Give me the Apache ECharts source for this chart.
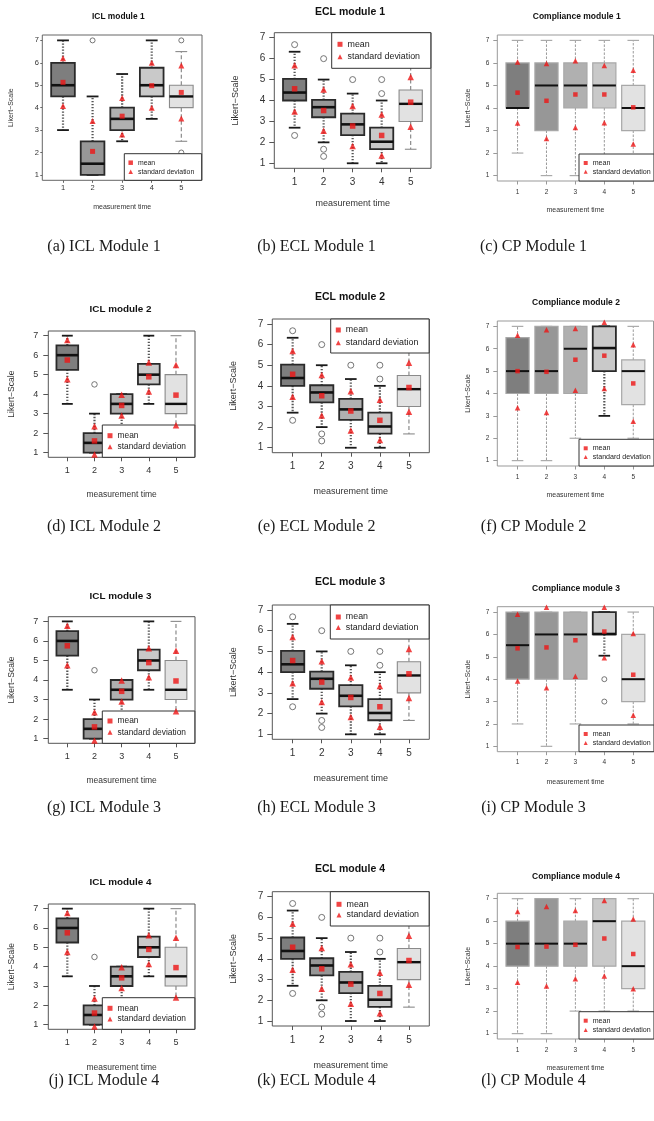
<!DOCTYPE html>
<html>
<head>
<meta charset="utf-8">
<script src="https://cdn.jsdelivr.net/npm/echarts@6/dist/echarts.min.js"></script>
<style>
html, body { margin: 0; padding: 0; background: #fff; }
#chart { width: 654px; height: 1121px; }
</style>
</head>
<body>
<div id="chart"></div>
<script>
// axis values
const measurementTimes = [1, 2, 3, 4, 5];
const likertTicks = [1, 2, 3, 4, 5, 6, 7];

// boxes: [lower whisker, Q1, median, Q3, upper whisker] per measurement time
const icl1Box = [[3, 4.5, 5, 6, 7], [1, 1, 1.5, 2.5, 4.5], [2.5, 3, 3.5, 4, 5.5], [3.5, 4.5, 5, 5.78, 7], [2.5, 4, 4.5, 5, 6.5]];
const icl1Mean = [5.13, 2.05, 3.62, 4.98, 4.68];
const icl1SdHigh = [6.2, 3.4, 4.43, 6.0, 5.88];
const icl1SdLow = [4.07, null, 2.8, 4.0, 3.52];
const icl1Outliers = [[2, 7], [5, 7], [5, 2]];

// ICL modules 2, 3 and 4 show the same figures
const iclBox = [[3.5, 5.25, 6, 6.5, 7], [1, 1, 1.5, 2, 3], [2, 3, 3.5, 4, 4], [3.5, 4.5, 5, 5.55, 7], [1.5, 3, 3.5, 5, 7]];
const iclMean = [5.75, 1.6, 3.42, 4.89, 3.95];
const iclSdHigh = [6.78, 2.35, 3.97, 5.63, 5.5];
const iclSdLow = [4.76, 0.9, 2.9, 4.14, 2.4];
const iclOutliers = [[2, 4.5]];

// ECL modules 1-4 show the same figures
const eclBox = [[2.7, 4.0, 4.38, 5.03, 6.33], [2.0, 3.2, 3.68, 4.03, 5.0], [1, 2.35, 2.86, 3.37, 4.33], [1, 1.68, 2.03, 2.7, 4.0], [1.67, 3.0, 3.84, 4.5, 6.67]];
const eclMean = [4.56, 3.52, 2.78, 2.33, 3.92];
const eclSdHigh = [5.69, 4.52, 3.74, 3.33, 5.12];
const eclSdLow = [3.47, 2.56, 1.83, 1.37, 2.75];
const eclOutliers = [[1, 6.67], [1, 2.33], [2, 6], [2, 1.67], [2, 1.33], [3, 5], [4, 5], [4, 4.33]];

const cp1Box = [[2, 4, 4, 6, 7], [1, 3, 5, 6, 7], [1, 4, 5, 6, 7], [1, 4, 5, 6, 7], [1, 3, 4, 5, 7]];
const cp1Mean = [4.68, 4.32, 4.6, 4.6, 4.03];
const cp1SdHigh = [6.04, 5.98, 6.1, 5.89, 5.68];
const cp1SdLow = [3.33, 2.65, 3.14, 3.35, 2.4];

const cp2Box = [[1, 4, 5, 6.5, 7], [1, 4, 5, 7, 7], [2, 4, 6, 7, 7], [3, 5, 6.03, 7, 7], [2, 3.5, 5, 5.5, 7]];
const cp2Mean = [5.0, 4.97, 5.51, 5.69, 4.45];
const cp2SdHigh = [6.6, 6.85, 6.9, 7.18, 6.18];
const cp2SdLow = [3.36, 3.15, 4.15, 4.22, 2.76];

const cp3Box = [[2, 4, 5.52, 7, 7], [1, 4, 6, 7, 7], [2, 4, 6, 7, 7], [5.05, 6, 6.02, 7, 7], [2, 3, 4, 6, 7]];
const cp3Mean = [5.38, 5.42, 5.74, 6.13, 4.2];
const cp3SdHigh = [6.9, 7.22, null, 7.22, 6.04];
const cp3SdLow = [3.92, 3.62, 4.13, 4.96, 2.39];
const cp3Outliers = [[4, 4], [4, 3]];

const cp4Box = [[1, 4, 5, 6, 7], [1, 4, 5, 7, 7], [2, 4, 5, 6, 7], [2, 4, 6, 7, 7], [2, 3, 4, 6, 7]];
const cp4Mean = [4.85, 4.87, 4.95, 5.23, 4.54];
const cp4SdHigh = [6.43, 6.65, 6.47, 6.92, 6.1];
const cp4SdLow = [3.28, 3.12, 3.44, 3.56, 3.0];

const FONT = '"Liberation Sans", Arial, sans-serif';
const RED = '#ee1515';
const boxFills = ['#7e7e7e', '#979797', '#b0b0b0', '#c9c9c9', '#e2e2e2'];
const boxStyles = {
    dark: { border: '#2a2a2a', borderW: 1.8, whisker: '#555', whiskerW: 2.2, dash: [1.3, 1.7], cap: '#1a1a1a', capW: 1.8, median: '#111', medianW: 2.6 },
    light: { border: '#8a8a8a', borderW: 1.1, whisker: '#808080', whiskerW: 1.1, dash: [4, 2.5], cap: '#8a8a8a', capW: 1.1, median: '#111', medianW: 2.4 },
    cp: { border: '#a8a8a8', borderW: 1.2, whisker: '#9a9a9a', whiskerW: 1, dash: [2.5, 1.5], cap: '#aaa', capW: 1.2, median: '#111', medianW: 2 }
};
const eclLooks = ['dark', 'dark', 'dark', 'dark', 'light'];
const cpLooks = ['cp', 'cp', 'cp', 'cp', 'cp'];
const cpBoldLooks = ['cp', 'cp', 'cp', 'dark', 'cp'];

const lookICL1 = { fs: { title: 8.4, tick: 7.5, name: 7, legend: 6.9 }, yTick: 2, yMargin: 3.5, xTick: 2.5, xMargin: 4, frame: '#666', sym: { mean: 5, sd: 6, out: 5 }, lsize: 4.5 };
const lookICL = { fs: { title: 9.9, tick: 9, name: 8.5, legend: 8.4 }, yTick: 5, yMargin: 10, xTick: 4, xMargin: 9, frame: '#555', sym: { mean: 5.5, sd: 6.5, out: 5.5 }, lsize: 5 };
const lookECL = { fs: { title: 10.5, tick: 10, name: 9, legend: 8.9 }, yTick: 5, yMargin: 9, xTick: 4, xMargin: 9, frame: '#555', sym: { mean: 5.5, sd: 6.5, out: 6 }, lsize: 5 };
const lookCP = { fs: { title: 8.5, tick: 6.5, name: 7, legend: 7.1 }, yTick: 4, yMargin: 8, xTick: 3.5, xMargin: 7.5, frame: '#999', sym: { mean: 4.5, sd: 5.5, out: 5 }, lsize: 4 };

const panels = [
    { title: 'ICL module 1', caption: '(a) ICL Module 1', box: icl1Box, mean: icl1Mean, hi: icl1SdHigh, lo: icl1SdLow, out: icl1Outliers, looks: eclLooks, look: lookICL1,
      grid: [42.3, 35, 159.7, 145.3], titleAt: [118.3, 16.7], captionAt: [104, 247], xGap: 23, yGap: 27.5,
      legend: { x: 124.3, y: 153.7, w: 77.4, h: 26.6, r1: 162.7, pitch: 9, sx: 130.7 } },
    { title: 'ECL module 1', caption: '(b) ECL Module 1', box: eclBox, mean: eclMean, hi: eclSdHigh, lo: eclSdLow, out: eclOutliers, looks: eclLooks, look: lookECL,
      grid: [274.3, 32.7, 156.7, 135.6], titleAt: [350, 12], captionAt: [316.5, 247], xGap: 31.1, yGap: 34.5,
      legend: { x: 331.7, y: 32.7, w: 99.3, h: 35.6, r1: 44.3, pitch: 12.4, sx: 340 } },
    { title: 'Compliance module 1', caption: '(c) CP Module 1', box: cp1Box, mean: cp1Mean, hi: cp1SdHigh, lo: cp1SdLow, out: [], looks: cpLooks, look: lookCP,
      grid: [497.3, 35, 156.2, 146], titleAt: [576.7, 16.7], captionAt: [533.5, 247], xGap: 26, yGap: 26.2,
      legend: { x: 579, y: 154, w: 75, h: 27, r1: 163, pitch: 8.7, sx: 585.7 } },

    { title: 'ICL module 2', caption: '(d) ICL Module 2', box: iclBox, mean: iclMean, hi: iclSdHigh, lo: iclSdLow, out: iclOutliers, looks: eclLooks, look: lookICL,
      grid: [48.3, 331, 146.7, 126.3], titleAt: [120.5, 309], captionAt: [104, 527], xGap: 32.8, yGap: 31.7,
      legend: { x: 102.3, y: 425, w: 92.7, h: 32.3, r1: 435.7, pitch: 11, sx: 110 } },
    { title: 'ECL module 2', caption: '(e) ECL Module 2', box: eclBox, mean: eclMean, hi: eclSdHigh, lo: eclSdLow, out: eclOutliers, looks: eclLooks, look: lookECL,
      grid: [272.3, 319, 157, 133.7], titleAt: [350, 297], captionAt: [316.5, 527], xGap: 34.7, yGap: 34.5,
      legend: { x: 330.7, y: 319, w: 98.6, h: 34, r1: 330, pitch: 12.7, sx: 338.3 } },
    { title: 'Compliance module 2', caption: '(f) CP Module 2', box: cp2Box, mean: cp2Mean, hi: cp2SdHigh, lo: cp2SdLow, out: [], looks: cpBoldLooks, look: lookCP,
      grid: [497.3, 321, 156.2, 145], titleAt: [576, 302.3], captionAt: [533.5, 527], xGap: 26, yGap: 26.2,
      legend: { x: 579, y: 439.3, w: 75, h: 26.7, r1: 448.3, pitch: 8.7, sx: 585.7 } },

    { title: 'ICL module 3', caption: '(g) ICL Module 3', box: iclBox, mean: iclMean, hi: iclSdHigh, lo: iclSdLow, out: iclOutliers, looks: eclLooks, look: lookICL,
      grid: [48.3, 616.7, 146.7, 126.6], titleAt: [120.5, 596], captionAt: [104, 808], xGap: 32.8, yGap: 31.7,
      legend: { x: 102.3, y: 711, w: 92.7, h: 32.3, r1: 721, pitch: 11.3, sx: 110 } },
    { title: 'ECL module 3', caption: '(h) ECL Module 3', box: eclBox, mean: eclMean, hi: eclSdHigh, lo: eclSdLow, out: eclOutliers, looks: eclLooks, look: lookECL,
      grid: [272.3, 605, 157, 134.3], titleAt: [350, 582.3], captionAt: [316.5, 808], xGap: 34.8, yGap: 34.5,
      legend: { x: 330.3, y: 605, w: 99, h: 34, r1: 617, pitch: 10.5, sx: 338.3 } },
    { title: 'Compliance module 3', caption: '(i) CP Module 3', box: cp3Box, mean: cp3Mean, hi: cp3SdHigh, lo: cp3SdLow, out: cp3Outliers, looks: cpBoldLooks, look: lookCP,
      grid: [497.3, 606.7, 156.2, 145], titleAt: [576, 589], captionAt: [533.5, 808], xGap: 26.4, yGap: 26.2,
      legend: { x: 579, y: 725, w: 75, h: 26.7, r1: 734, pitch: 9, sx: 585.7 } },

    { title: 'ICL module 4', caption: '(j) ICL Module 4', box: iclBox, mean: iclMean, hi: iclSdHigh, lo: iclSdLow, out: iclOutliers, looks: eclLooks, look: lookICL,
      grid: [48.3, 904, 146.7, 125.3], titleAt: [120.5, 882.7], captionAt: [104, 1081], xGap: 33.4, yGap: 31.7,
      legend: { x: 102.3, y: 997.7, w: 92.7, h: 31.6, r1: 1008.3, pitch: 10.7, sx: 110 } },
    { title: 'ECL module 4', caption: '(k) ECL Module 4', box: eclBox, mean: eclMean, hi: eclSdHigh, lo: eclSdLow, out: eclOutliers, looks: eclLooks, look: lookECL,
      grid: [272.3, 891.7, 157, 134.3], titleAt: [350, 869.3], captionAt: [316.5, 1081], xGap: 35.1, yGap: 34.5,
      legend: { x: 330.3, y: 891.7, w: 99, h: 34.3, r1: 904.3, pitch: 10.7, sx: 339 } },
    { title: 'Compliance module 4', caption: '(l) CP Module 4', box: cp4Box, mean: cp4Mean, hi: cp4SdHigh, lo: cp4SdLow, out: [], looks: cpLooks, look: lookCP,
      grid: [497.3, 893.3, 156.2, 145.7], titleAt: [576, 876.7], captionAt: [533.5, 1081], xGap: 25.7, yGap: 26.2,
      legend: { x: 579, y: 1011.7, w: 75, h: 27.3, r1: 1020.7, pitch: 9.3, sx: 585.7 } }
];

// R style box: dashed/dotted whiskers, staples, filled box, thick median
function makeBoxRenderer(looks) {
    return function (params, api) {
        const k = params.dataIndex;
        const st = boxStyles[looks[k]];
        const x = api.value(0);
        const lo = api.value(1), q1 = api.value(2), med = api.value(3), q3 = api.value(4), hi = api.value(5);
        const topLeft = api.coord([x - 0.4, q3]);
        const botRight = api.coord([x + 0.4, q1]);
        const cx = api.coord([x, med])[0];
        const capL = api.coord([x - 0.2, hi])[0];
        const capR = api.coord([x + 0.2, hi])[0];
        const yLo = api.coord([x, lo])[1];
        const yHi = api.coord([x, hi])[1];
        const yMed = api.coord([x, med])[1];
        const whisker = { stroke: st.whisker, lineWidth: st.whiskerW, lineDash: st.dash };
        const cap = { stroke: st.cap, lineWidth: st.capW };
        const children = [];
        if (hi > q3) children.push({ type: 'line', shape: { x1: cx, y1: topLeft[1], x2: cx, y2: yHi }, style: whisker });
        if (lo < q1) children.push({ type: 'line', shape: { x1: cx, y1: botRight[1], x2: cx, y2: yLo }, style: whisker });
        children.push({ type: 'line', shape: { x1: capL, y1: yHi, x2: capR, y2: yHi }, style: cap });
        children.push({ type: 'line', shape: { x1: capL, y1: yLo, x2: capR, y2: yLo }, style: cap });
        children.push({
            type: 'rect',
            shape: { x: topLeft[0], y: topLeft[1], width: botRight[0] - topLeft[0], height: botRight[1] - topLeft[1] },
            style: { fill: boxFills[k], stroke: st.border, lineWidth: st.borderW }
        });
        children.push({ type: 'line', shape: { x1: topLeft[0], y1: yMed, x2: botRight[0], y2: yMed }, style: { stroke: st.median, lineWidth: st.medianW } });
        return { type: 'group', children: children };
    };
}

const option = { animation: false, grid: [], xAxis: [], yAxis: [], legend: [], series: [], graphic: [] };

panels.forEach((p, i) => {
    const lk = p.look;
    const [gl, gt, gw, gh] = p.grid;
    option.grid.push({ left: gl, top: gt, width: gw, height: gh, show: true, borderColor: lk.frame, borderWidth: 1, backgroundColor: 'rgba(0,0,0,0)' });

    const nameStyle = { fontSize: lk.fs.name, fontFamily: FONT, color: '#333' };
    option.xAxis.push({
        gridIndex: i, type: 'value', min: 0.3, max: 5.7,
        name: 'measurement time', nameLocation: 'middle', nameGap: p.xGap, nameTextStyle: nameStyle,
        axisLine: { show: false },
        axisTick: { show: true, customValues: measurementTimes, length: lk.xTick, lineStyle: { color: lk.frame } },
        axisLabel: { customValues: measurementTimes, margin: lk.xMargin, fontSize: lk.fs.tick, fontFamily: FONT, color: '#333' },
        splitLine: { show: false }
    });
    option.yAxis.push({
        gridIndex: i, type: 'value', min: 0.76, max: 7.24,
        name: 'Likert\u2212Scale', nameLocation: 'middle', nameGap: p.yGap, nameTextStyle: nameStyle,
        axisLine: { show: false },
        axisTick: { show: true, customValues: likertTicks, length: lk.yTick, lineStyle: { color: lk.frame } },
        axisLabel: { customValues: likertTicks, margin: lk.yMargin, fontSize: lk.fs.tick, fontFamily: FONT, color: '#333' },
        splitLine: { show: false }
    });

    option.series.push({
        type: 'custom', name: 'box', xAxisIndex: i, yAxisIndex: i, z: 2,
        renderItem: makeBoxRenderer(p.looks),
        encode: { x: 0, y: [1, 2, 3, 4, 5] },
        data: measurementTimes.map((t, k) => [t].concat(p.box[k]))
    });
    if (p.out.length) {
        option.series.push({
            type: 'scatter', name: 'outlier', xAxisIndex: i, yAxisIndex: i, z: 3,
            symbol: 'circle', symbolSize: lk.sym.out,
            itemStyle: { color: 'rgba(0,0,0,0)', borderColor: '#555', borderWidth: 1 },
            data: p.out
        });
    }
    option.series.push({
        type: 'scatter', name: 'mean', xAxisIndex: i, yAxisIndex: i, z: 4,
        symbol: 'rect', symbolSize: lk.sym.mean, itemStyle: { color: RED },
        data: measurementTimes.map((t, k) => [t, p.mean[k]])
    });
    const sdData = [];
    measurementTimes.forEach((t, k) => {
        if (p.hi[k] != null) sdData.push([t, p.hi[k]]);
        if (p.lo[k] != null) sdData.push([t, p.lo[k]]);
    });
    option.series.push({
        type: 'scatter', name: 'standard deviation', xAxisIndex: i, yAxisIndex: i, z: 4,
        symbol: 'triangle', symbolSize: lk.sym.sd, itemStyle: { color: RED },
        data: sdData
    });

    // legend box laid over the plot like R's legend()
    const L = p.legend;
    const s = lk.lsize;
    const textW = 8.17 * lk.fs.legend;
    const padTop = L.r1 - L.pitch / 2 - L.y;
    const padLeft = L.sx - s / 2 - L.x;
    const padBottom = Math.max(0, L.h - padTop - 2 * L.pitch);
    const padRight = Math.max(0, L.w - padLeft - s - 5 - textW);
    option.legend.push({
        left: L.x, top: L.y, orient: 'vertical',
        padding: [padTop, padRight, padBottom, padLeft],
        itemGap: 0, itemWidth: s, itemHeight: s, selectedMode: false,
        backgroundColor: '#fff', borderColor: '#333', borderWidth: 1, borderRadius: 0,
        textStyle: { fontSize: lk.fs.legend, fontFamily: FONT, color: '#222', lineHeight: L.pitch },
        data: [{ name: 'mean', icon: 'rect' }, { name: 'standard deviation', icon: 'triangle' }]
    });

    option.graphic.push({
        type: 'text', x: p.titleAt[0], y: p.titleAt[1], z: 10,
        style: { text: p.title, align: 'center', verticalAlign: 'middle', fontSize: lk.fs.title, fontWeight: 'bold', fontFamily: FONT, fill: '#111' }
    });
    option.graphic.push({
        type: 'text', x: p.captionAt[0], y: p.captionAt[1], z: 10,
        style: { text: p.caption, align: 'center', verticalAlign: 'middle', fontSize: 16, fontFamily: '"Liberation Serif", "Times New Roman", serif', fill: '#1a1a1a' }
    });
});

const myChart = echarts.init(document.getElementById('chart'));
myChart.setOption(option);
</script>
</body>
</html>
